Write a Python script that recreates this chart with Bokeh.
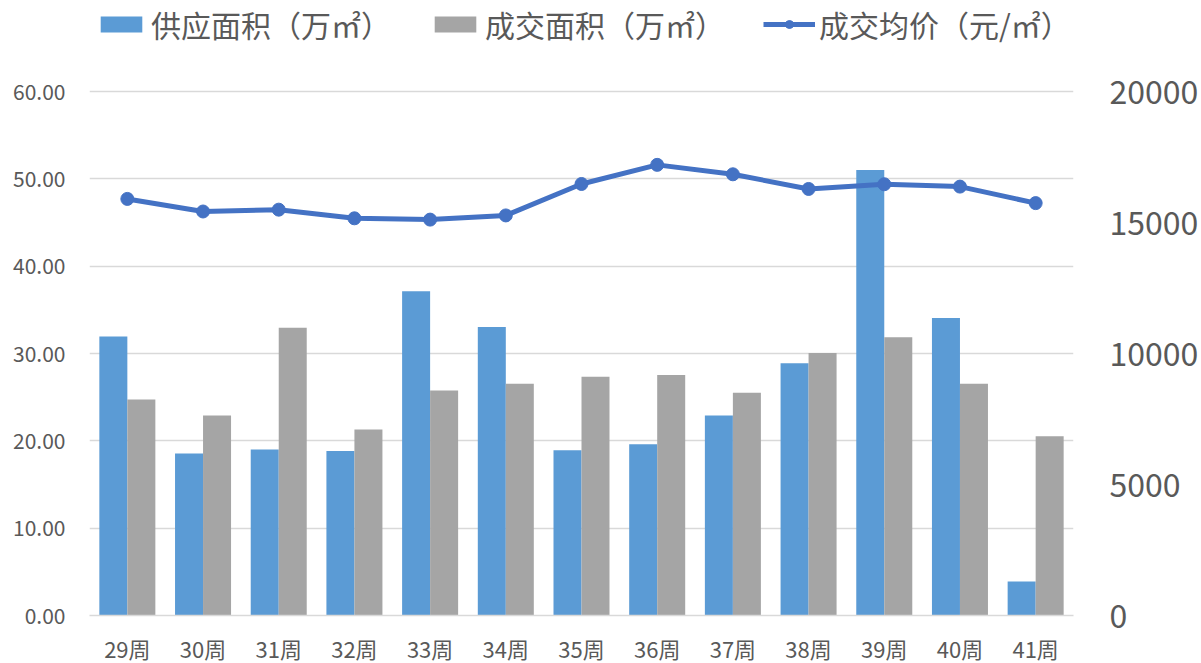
from bokeh.plotting import figure
from bokeh.models import (ColumnDataSource, FactorRange, Range1d, LinearAxis,
                          NumeralTickFormatter, FixedTicker, Legend, LegendItem)
from bokeh.transform import dodge
from bokeh.embed import file_html
from bokeh.resources import INLINE

weeks = ["29周", "30周", "31周", "32周", "33周", "34周", "35周",
         "36周", "37周", "38周", "39周", "40周", "41周"]
supply_area = [31.94, 18.55, 19.00, 18.85, 37.14, 33.04, 18.93,
               19.60, 22.90, 28.87, 51.00, 34.07, 3.90]
deal_area = [24.73, 22.90, 32.96, 21.30, 25.76, 26.55, 27.35,
             27.54, 25.50, 30.05, 31.87, 26.55, 20.52]
avg_price = [15900, 15420, 15490, 15160, 15110, 15270, 16470,
             17200, 16840, 16280, 16460, 16370, 15740]

left_ticks = [0, 10, 20, 30, 40, 50, 60]
right_ticks = [0, 5000, 10000, 15000, 20000]

label_supply = "供应面积（万㎡）"
label_deal = "成交面积（万㎡）"
label_price = "成交均价（元/㎡）"

FONT = "Noto Sans CJK SC"
TXT = "#595959"

src = ColumnDataSource(dict(week=weeks, supply=supply_area, deal=deal_area, price=avg_price))

# plot area for the 0..60 scale; frame extends upward to host the legend
PLOT_H = 524
EXTRA = 89
FH = PLOT_H + EXTRA
FW = 984
scale = FH / PLOT_H

p = figure(x_range=FactorRange(*weeks, range_padding=0.0),
           y_range=Range1d(0, 60 * scale),
           frame_width=FW, frame_height=FH,
           min_border_left=89, min_border_right=127,
           min_border_top=2, min_border_bottom=46,
           output_backend="svg", toolbar_location=None, tools="")
p.extra_y_ranges = {"price": Range1d(0, 20000 * scale)}

b1 = p.vbar(x=dodge("week", -0.185, range=p.x_range), top="supply", width=0.37,
            source=src, fill_color="#5B9BD5", line_color=None)
b2 = p.vbar(x=dodge("week", 0.185, range=p.x_range), top="deal", width=0.37,
            source=src, fill_color="#A5A5A5", line_color=None)
ln = p.line(x="week", y="price", source=src, y_range_name="price",
            line_color="#4472C4", line_width=5)
mk = p.scatter(x="week", y="price", source=src, y_range_name="price",
               size=13, fill_color="#4472C4", line_color="#4472C4")

p.outline_line_color = None
p.background_fill_color = "white"
p.border_fill_color = "white"

# left axis
ya = p.yaxis[0]
ya.ticker = FixedTicker(ticks=left_ticks)
ya.formatter = NumeralTickFormatter(format="0.00")
ya.axis_line_color = None
ya.major_tick_line_color = None
ya.minor_tick_line_color = None
ya.major_label_text_font = FONT
ya.major_label_text_font_size = "21px"
ya.major_label_text_color = TXT
ya.major_label_standoff = 18

# right axis
ra = LinearAxis(y_range_name="price")
ra.ticker = FixedTicker(ticks=right_ticks)
ra.formatter = NumeralTickFormatter(format="0")
ra.axis_line_color = None
ra.major_tick_line_color = None
ra.minor_tick_line_color = None
ra.major_label_text_font = FONT
ra.major_label_text_font_size = "32px"
ra.major_label_text_color = TXT
ra.major_label_standoff = 30
p.add_layout(ra, "right")

# x axis
xa = p.xaxis[0]
xa.axis_line_color = "#D9D9D9"
xa.axis_line_width = 1.5
xa.major_tick_line_color = None
xa.minor_tick_line_color = None
xa.major_label_text_font = FONT
xa.major_label_text_font_size = "22px"
xa.major_label_text_color = TXT
xa.major_label_standoff = 10

p.xgrid.grid_line_color = None
p.ygrid.grid_line_color = "#D9D9D9"
p.ygrid.grid_line_width = 1.5
p.ygrid.ticker = FixedTicker(ticks=left_ticks[1:])

legend = Legend(items=[LegendItem(label=label_supply, renderers=[b1]),
                       LegendItem(label=label_deal, renderers=[b2]),
                       LegendItem(label=label_price, renderers=[ln, mk])],
                orientation="horizontal", location=(6, FH - 44),
                label_text_font=FONT, label_text_font_size="30px",
                label_text_color=TXT, glyph_width=52, glyph_height=20,
                label_standoff=4, spacing=38, padding=0, margin=0,
                border_line_color=None, background_fill_alpha=0)
p.add_layout(legend, "center")

html = file_html(p, INLINE)
open("out.html", "w").write(html)
